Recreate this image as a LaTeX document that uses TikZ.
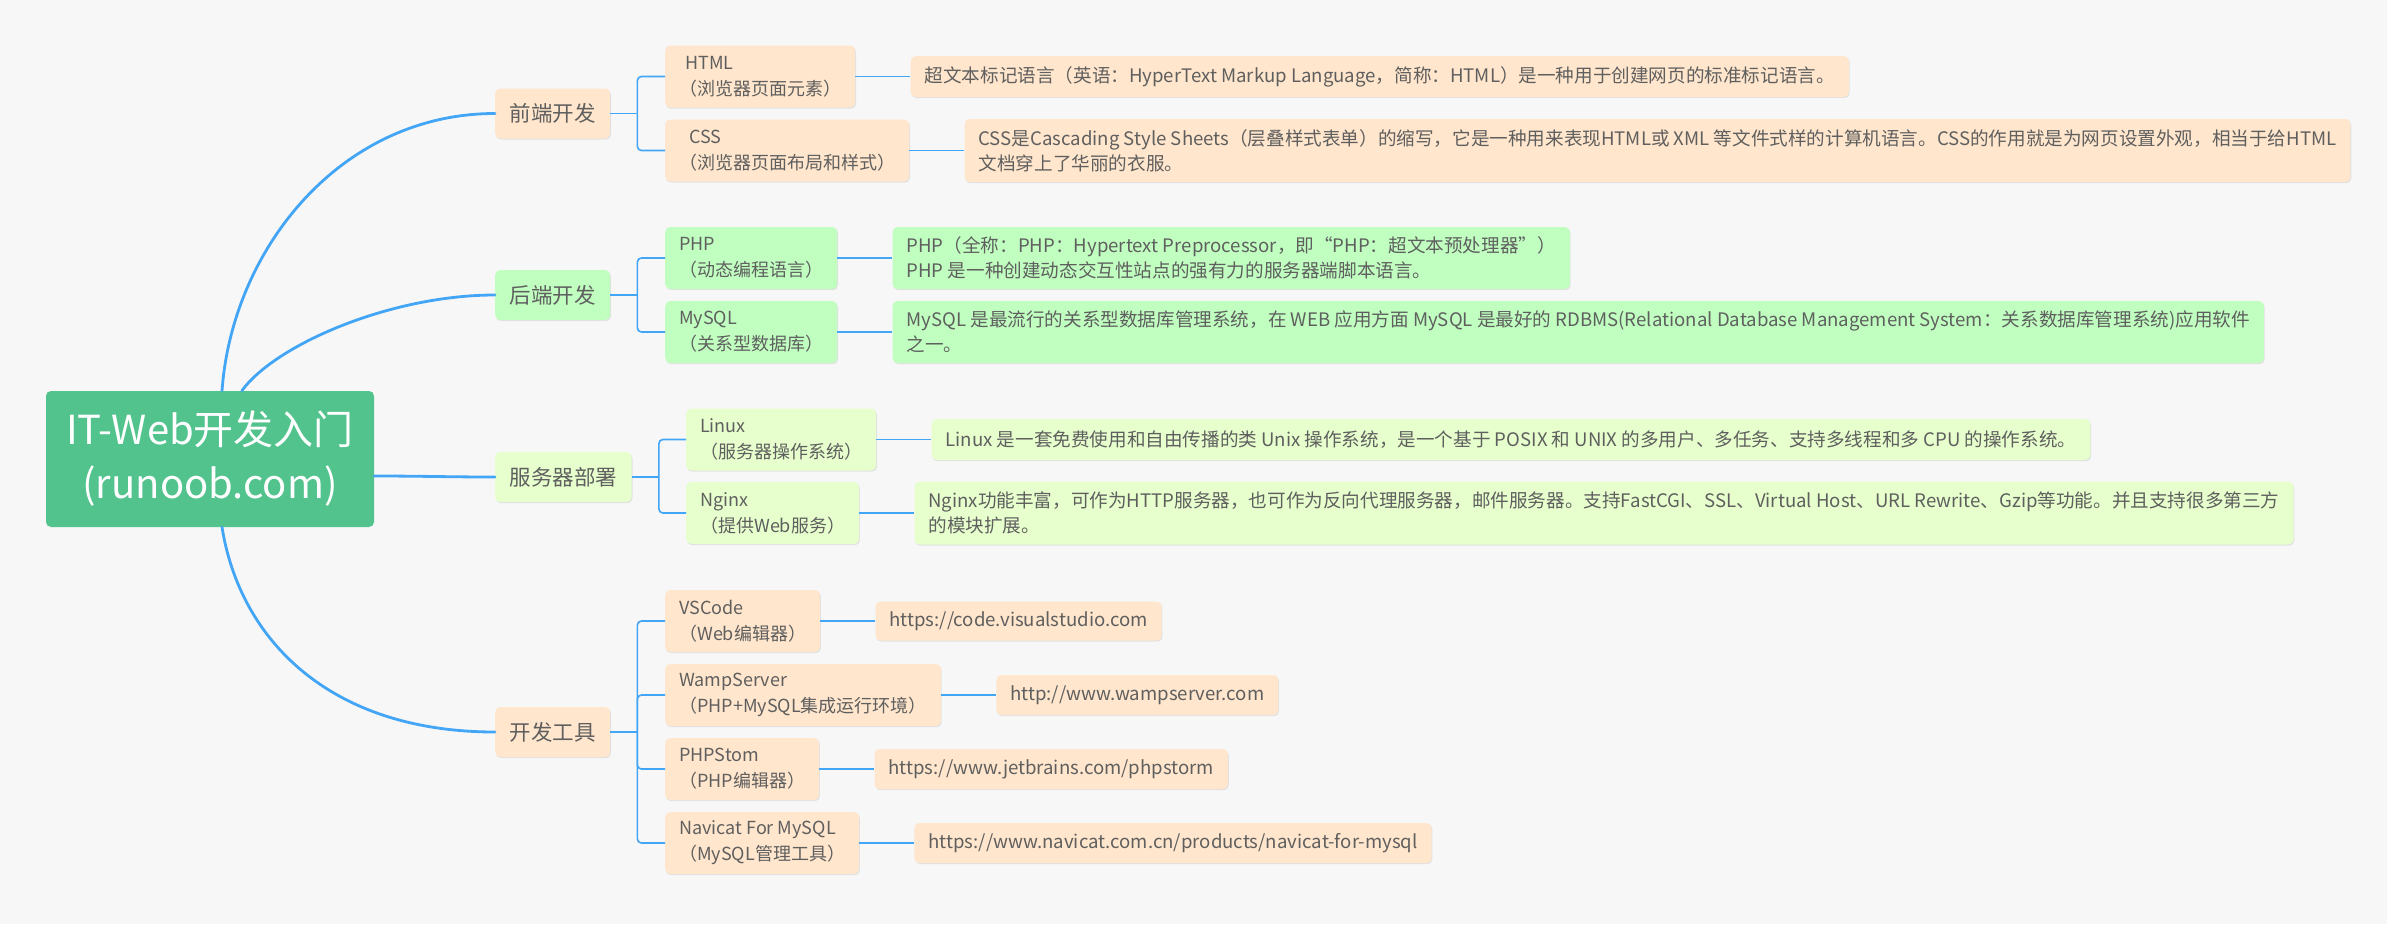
\documentclass[tikz,border=0pt]{standalone}
\usepackage{fontspec}
\setmainfont{Noto Sans CJK SC}
\usetikzlibrary{positioning,shadows}
\definecolor{beijing}{RGB}{247,247,247}
\definecolor{xianlan}{RGB}{66,165,245}
\definecolor{genlv}{RGB}{82,195,141}
\definecolor{cheng}{RGB}{255,230,204}
\definecolor{qianlv}{RGB}{192,255,192}
\definecolor{huanglv}{RGB}{230,255,204}
\definecolor{zihui}{RGB}{95,95,95}
\tikzset{ %节点样式
    boxshadow/.style={drop shadow={shadow xshift=0.8pt, shadow yshift=-1.2pt, opacity=0.18}},
    rootbox/.style={fill=genlv, text=white, rounded corners=5pt, align=center,
        font=\fontsize{40}{54}\selectfont, minimum width=328pt, minimum height=136pt, inner sep=0pt},
    topicbox/.style={fill=#1, text=zihui, rounded corners=5pt, anchor=west, boxshadow,
        font=\fontsize{21.5}{26}\selectfont, inner xsep=14.5pt, inner ysep=0pt, minimum height=50pt},
    itembox/.style={fill=#1, text=zihui, rounded corners=5pt, anchor=west, align=left, boxshadow,
        font=\fontsize{18}{26}\selectfont, inner xsep=14pt, inner ysep=0pt, minimum height=62pt},
    notebox/.style={fill=#1, text=zihui, rounded corners=5pt, align=left, boxshadow,
        font=\fontsize{18.6}{25}\selectfont, inner xsep=14pt, inner ysep=0pt, minimum height=41pt},
}
\tikzset{ %连线样式
    branch/.style={draw=xianlan, line width=2.8pt, line cap=round},
    fork/.style={draw=xianlan, line width=1.6pt, rounded corners=4pt},
    link/.style={draw=xianlan, line width=1.6pt},
}
\begin{document}
\begin{tikzpicture}[x=1pt, y=-1pt]
    \useasboundingbox (0,0) rectangle (2402,924);
    \fill[beijing] (0,0) rectangle (2387,924);
    \fill[white] (2387,0) rectangle (2402,924);
    % 中心主题
    \node[rootbox] (root) at (210,459) {IT-Web开发入门\\(runoob.com)};
    % 一级分支
    \node[topicbox=cheng] (qd) at (495,113.5) {前端开发};
    \node[topicbox=qianlv] (hd) at (495,295) {后端开发};
    \node[topicbox=huanglv] (fw) at (495,477) {服务器部署};
    \node[topicbox=cheng] (gj) at (495,732) {开发工具};
    \draw[branch] (root.80) .. controls (232,250) and (340,113.5) .. (qd.west);
    \draw[branch] (root.65) .. controls (275,345) and (390,295) .. (hd.west);
    \draw[branch] ([yshift=-17pt]root.east) to[out=0, in=180] (fw.west);
    \draw[branch] (root.-80) .. controls (240,640) and (330,732) .. (gj.west);
    % 前端开发
    \node[itembox=cheng] (html) at (665,76.5) {\hspace*{6pt}HTML\\（浏览器页面元素）};
    \node[itembox=cheng] (css) at (665,150.5) {\hspace*{10pt}CSS\\（浏览器页面布局和样式）};
    \node[notebox=cheng, right=55pt of html] (htmlnote) {超文本标记语言（英语：HyperText Markup Language，简称：HTML）是一种用于创建网页的标准标记语言。};
    \node[notebox=cheng, right=55pt of css, minimum height=63pt] (cssnote) {CSS是Cascading Style Sheets（层叠样式表单）的缩写，它是一种用来表现HTML或 XML 等文件式样的计算机语言。CSS的作用就是为网页设置外观，相当于给HTML\\文档穿上了华丽的衣服。};
    % 后端开发
    \node[itembox=qianlv] (php) at (665,258) {PHP\\（动态编程语言）};
    \node[itembox=qianlv] (mysql) at (665,332) {MySQL\\（关系型数据库）};
    \node[notebox=qianlv, right=55pt of php, minimum height=62pt] (phpnote) {PHP（全称：PHP：Hypertext Preprocessor，即“PHP：超文本预处理器”）\\PHP 是一种创建动态交互性站点的强有力的服务器端脚本语言。};
    \node[notebox=qianlv, right=55pt of mysql, minimum height=62pt] (mysqlnote) {MySQL 是最流行的关系型数据库管理系统，在 WEB 应用方面 MySQL 是最好的 RDBMS(Relational Database Management System：关系数据库管理系统)应用软件\\之一。};
    % 服务器部署
    \node[itembox=huanglv] (linux) at (686,439.5) {Linux\\（服务器操作系统）};
    \node[itembox=huanglv] (nginx) at (686,513) {Nginx\\（提供Web服务）};
    \node[notebox=huanglv, right=55pt of linux] (linuxnote) {Linux 是一套免费使用和自由传播的类 Unix 操作系统，是一个基于 POSIX 和 UNIX 的多用户、多任务、支持多线程和多 CPU 的操作系统。};
    \node[notebox=huanglv, right=55pt of nginx, minimum height=63pt] (nginxnote) {Nginx功能丰富，可作为HTTP服务器，也可作为反向代理服务器，邮件服务器。支持FastCGI、SSL、Virtual Host、URL Rewrite、Gzip等功能。并且支持很多第三方\\的模块扩展。};
    % 开发工具
    \node[itembox=cheng] (vscode) at (665,621) {VSCode\\（Web编辑器）};
    \node[itembox=cheng] (wamp) at (665,695) {WampServer\\（PHP+MySQL集成运行环境）};
    \node[itembox=cheng] (storm) at (665,769) {PHPStom\\（PHP编辑器）};
    \node[itembox=cheng] (navicat) at (665,843) {Navicat For MySQL\\（MySQL管理工具）};
    \node[notebox=cheng, right=55pt of vscode, minimum height=39pt] (vsurl) {https://code.visualstudio.com};
    \node[notebox=cheng, right=55pt of wamp, minimum height=40pt] (wampurl) {http://www.wampserver.com};
    \node[notebox=cheng, right=55pt of storm, minimum height=40pt] (stormurl) {https://www.jetbrains.com/phpstorm};
    \node[notebox=cheng, right=55pt of navicat, minimum height=40pt] (navurl) {https://www.navicat.com.cn/products/navicat-for-mysql};
    % 分叉连线
    \draw[fork] (qd.east) -- ++(27,0) coordinate (qdfork);
    \draw[fork] (hd.east) -- ++(27,0) coordinate (hdfork);
    \draw[fork] (fw.east) -- ++(27,0) coordinate (fwfork);
    \draw[fork] (gj.east) -- ++(27,0) coordinate (gjfork);
    \foreach \c in {html,css} {\draw[fork] (qdfork) |- (\c.west);}
    \foreach \c in {php,mysql} {\draw[fork] (hdfork) |- (\c.west);}
    \foreach \c in {linux,nginx} {\draw[fork] (fwfork) |- (\c.west);}
    \foreach \c in {vscode,wamp,storm,navicat} {\draw[fork] (gjfork) |- (\c.west);}
    % 说明连线
    \foreach \a/\b in {html/htmlnote,css/cssnote,php/phpnote,mysql/mysqlnote,linux/linuxnote,nginx/nginxnote,vscode/vsurl,wamp/wampurl,storm/stormurl,navicat/navurl}
        {\draw[link] (\a.east) -- (\b.west);}
\end{tikzpicture}
\end{document}
